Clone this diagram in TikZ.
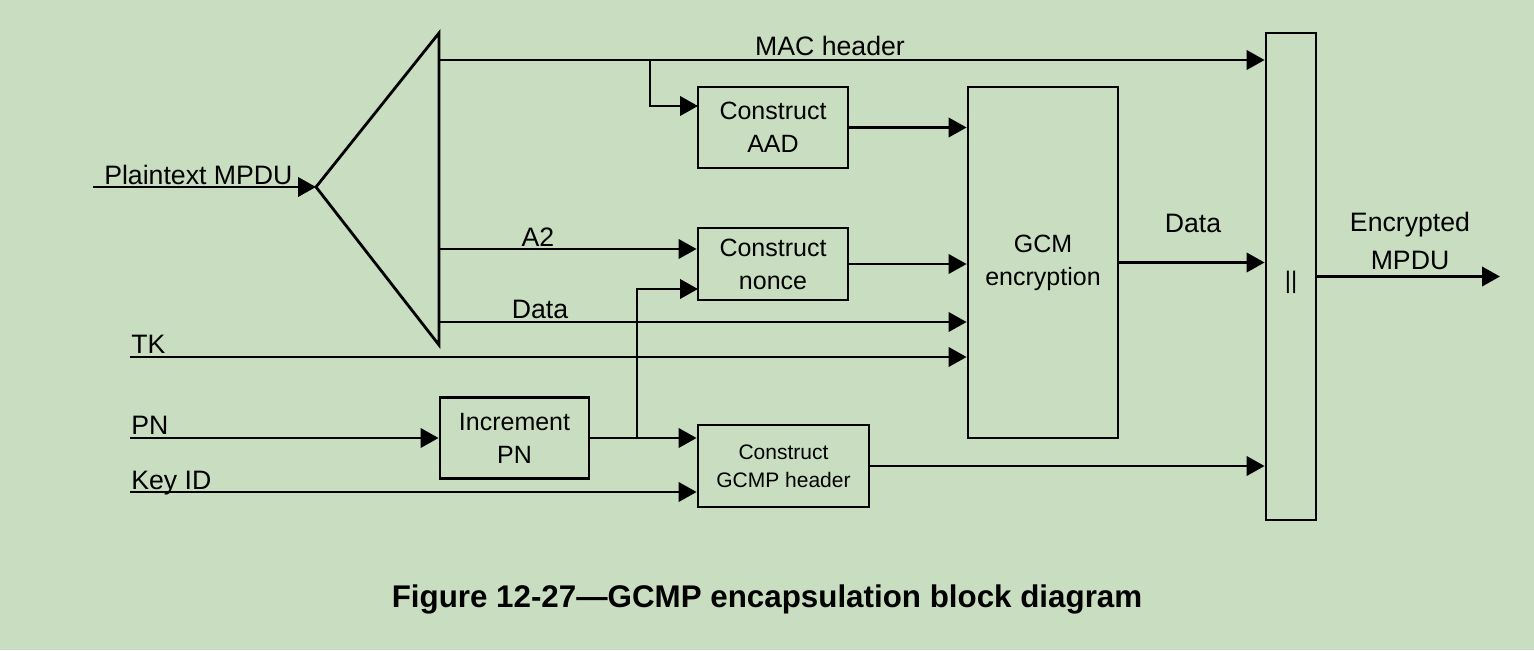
\documentclass[tikz,border=0pt]{standalone}
\usepackage{fontspec}
\setmainfont{Liberation Sans}
\usetikzlibrary{arrows.meta}
\definecolor{bgc}{RGB}{201,222,192}
\tikzset{
  ln/.style={line width=2.1pt},
  arr/.style={ln,-{Triangle[length=13.5pt,width=14.5pt]}},
  blk/.style={draw,ln,rectangle,inner sep=0pt,align=center,font=\fontsize{18.75}{24.75}\selectfont},
  lbl/.style={inner sep=0pt,font=\fontsize{20}{28.5}\selectfont},
}
\begin{document}
\begin{tikzpicture}[x=0.75pt,y=-0.75pt]
\fill[bgc] (0,0) rectangle (1534,650);
\useasboundingbox (0,0) rectangle (1534,650);

% boxes
\node[blk,minimum width=112.5pt,minimum height=60.75pt] (aad) at (773,127.5) {Construct\\AAD};
\node[blk,minimum width=112.5pt,minimum height=54pt] (nonce) at (773,264) {Construct\\nonce};
\node[blk,minimum width=112.5pt,minimum height=263.25pt] (gcm) at (1043,262.5) {GCM\\encryption};
\node[blk,minimum width=111.75pt,minimum height=60.75pt] (inc) at (514.5,438) {Increment\\PN};
\node[blk,minimum width=128.25pt,minimum height=61.5pt,font=\fontsize{15.75}{21}\selectfont] (hdr) at (783.5,466) {Construct\\GCMP header};
\node[blk,minimum width=37.5pt,minimum height=365.25pt] (cat) at (1291,276.5) {};
\node[lbl,font=\fontsize{18}{20}\selectfont] (catlbl) at (1291,282) {||};

% splitter triangle
\coordinate (apex) at (316,187);
\coordinate (ttop) at (439,33);
\coordinate (tbot) at (439,345);
\draw[ln,line join=miter] (apex) -- (ttop) -- (tbot) -- cycle;

% inputs
\coordinate (pin) at (93,187);
\coordinate (tkin) at (130,357);
\coordinate (pnin) at (130,438);
\coordinate (kidin) at (130,492);
\coordinate (macout) at (439,60);
\coordinate (macbr) at (650,60);
\coordinate (aadin) at (698,106);
\coordinate (a2out) at (439,249);
\coordinate (dataout) at (439,322);
\coordinate (incbr) at (637,438);
\coordinate (noncein) at (698,289);
\coordinate (outend) at (1500,276.5);

\draw[arr] (pin) -- (apex);
\draw[arr] (macout) -- (macout -| cat.west);
\draw[arr] (macbr) |- (aadin);
\draw[arr] (aad.east) -- (aad.east -| gcm.west);
\draw[arr] (a2out) -- (a2out -| nonce.west);
\draw[arr] (nonce.east) -- (nonce.east -| gcm.west);
\draw[arr] (dataout) -- (dataout -| gcm.west);
\draw[arr] (tkin) -- (tkin -| gcm.west);
\draw[arr] (pnin) -- (inc.west);
\draw[arr] (inc.east) -- (inc.east -| hdr.west);
\draw[arr] (incbr) |- (noncein);
\draw[arr] (kidin) -- (kidin -| hdr.west);
\draw[arr] (hdr.east) -- (hdr.east -| cat.west);
\draw[arr] (gcm.east) -- (gcm.east -| cat.west);
\draw[arr] (cat.east) -- (outend);

% labels
\node[lbl,anchor=base west] (lpt) at (104,184) {Plaintext MPDU};
\node[lbl,anchor=base] (lmac) at (830,55) {MAC header};
\node[lbl,anchor=base] (la2) at (538,246) {A2};
\node[lbl,anchor=base] (ldata) at (540,318) {Data};
\node[lbl,anchor=base west] (ltk) at (131,353) {TK};
\node[lbl,anchor=base west] (lpn) at (131,434) {PN};
\node[lbl,anchor=base west] (lkid) at (131,489) {Key ID};
\node[lbl,anchor=base] (ldata2) at (1193,232) {Data};
\node[lbl,align=center] (lenc) at (1410,241) {Encrypted\\MPDU};

\node[inner sep=0pt,anchor=base,font=\fontsize{23.5}{28}\selectfont\bfseries] (cap) at (767,607) {Figure 12-27—GCMP encapsulation block diagram};
\end{tikzpicture}
\end{document}
